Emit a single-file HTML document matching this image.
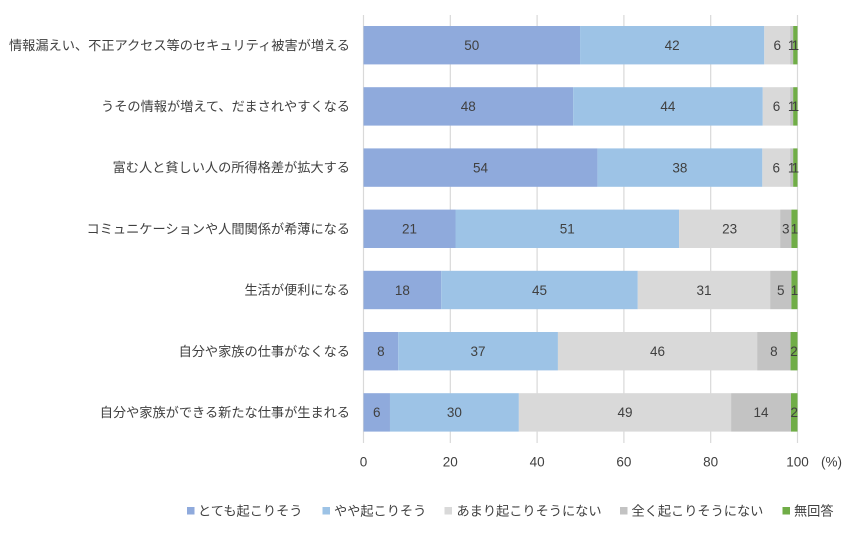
<!DOCTYPE html>
<html><head><meta charset="utf-8">
<style>
html,body{margin:0;padding:0;background:#fff;}
svg{display:block;}
text{font-family:"Liberation Sans","Noto Sans CJK JP",sans-serif;fill:#404040;}
.lbl{font-size:13.2px;}
.val{font-size:13.5px;}
</style></head>
<body>
<svg width="868" height="539" viewBox="0 0 868 539" xmlns="http://www.w3.org/2000/svg">
<g stroke="#D9D9D9" stroke-width="1.2">
<line x1="363.5" y1="15" x2="363.5" y2="443"/>
<line x1="450.3" y1="15" x2="450.3" y2="443"/>
<line x1="537.1" y1="15" x2="537.1" y2="443"/>
<line x1="623.9" y1="15" x2="623.9" y2="443"/>
<line x1="710.7" y1="15" x2="710.7" y2="443"/>
<line x1="797.5" y1="15" x2="797.5" y2="443"/>
</g>
<g id="bars"></g>
<g class="lbl" text-anchor="end">
<text x="350" y="49.8">情報漏えい、不正アクセス等のセキュリティ被害が増える</text>
<text x="350" y="111">うその情報が増えて、だまされやすくなる</text>
<text x="350" y="172.2">富む人と貧しい人の所得格差が拡大する</text>
<text x="350" y="233.4">コミュニケーションや人間関係が希薄になる</text>
<text x="350" y="294.6">生活が便利になる</text>
<text x="350" y="355.8">自分や家族の仕事がなくなる</text>
<text x="350" y="417">自分や家族ができる新たな仕事が生まれる</text>
</g>
<g class="val" text-anchor="middle">
<text x="363.5" y="466.5">0</text>
<text x="450.3" y="466.5">20</text>
<text x="537.1" y="466.5">40</text>
<text x="623.9" y="466.5">60</text>
<text x="710.7" y="466.5">80</text>
<text x="797.5" y="466.5">100</text>
</g>
<text class="val" x="821" y="466.5">(%)</text>
<g class="lbl">
<rect x="187" y="507" width="7.5" height="7.5" fill="#8FAADC"/>
<text x="198" y="515.5">とても起こりそう</text>
<rect x="322.5" y="507" width="7.5" height="7.5" fill="#9DC3E6"/>
<text x="334" y="515.5">やや起こりそう</text>
<rect x="444.5" y="507" width="7.5" height="7.5" fill="#D9D9D9"/>
<text x="456.5" y="515.5">あまり起こりそうにない</text>
<rect x="620" y="507" width="7.5" height="7.5" fill="#C3C3C3"/>
<text x="631.5" y="515.5">全く起こりそうにない</text>
<rect x="782.5" y="507" width="7.5" height="7.5" fill="#70AD47"/>
<text x="794" y="515.5">無回答</text>
</g>
<script>
(function(){
var rows=[
[[49.9,92.35,98.3,99.0,100],[50,42,6,1,1]],
[[48.3,92.0,98.3,99.0,100],[48,44,6,1,1]],
[[53.9,91.9,98.3,99.0,100],[54,38,6,1,1]],
[[21.2,72.7,96.0,98.6,100],[21,51,23,3,1]],
[[17.9,63.2,93.7,98.6,100],[18,45,31,5,1]],
[[8.0,44.8,90.7,98.4,100],[8,37,46,8,2]],
[[6.1,35.8,84.7,98.5,100],[6,30,49,14,2]]
];
var cols=["#8FAADC","#9DC3E6","#D9D9D9","#C3C3C3","#70AD47"];
var g=document.getElementById("bars");var ns="http://www.w3.org/2000/svg";
function X(p){return 363.5+p*4.34;}
rows.forEach(function(r,i){
var top=26+i*61.2,h=38.4,prev=0;
for(var j=0;j<5;j++){
var x0=X(prev),x1=X(r[0][j]);
var rc=document.createElementNS(ns,"rect");
rc.setAttribute("x",x0);rc.setAttribute("y",top);rc.setAttribute("width",x1-x0);rc.setAttribute("height",h);rc.setAttribute("fill",cols[j]);
g.appendChild(rc);
prev=r[0][j];
}
prev=0;
for(var j=0;j<5;j++){
var x0=X(prev),x1=X(r[0][j]);
var t=document.createElementNS(ns,"text");
t.setAttribute("x",(x0+x1)/2);t.setAttribute("y",top+h/2+4.8);t.setAttribute("text-anchor","middle");t.setAttribute("class","val");
t.textContent=r[1][j];g.appendChild(t);
prev=r[0][j];
}
});
})();
</script>
</svg>
</body></html>
